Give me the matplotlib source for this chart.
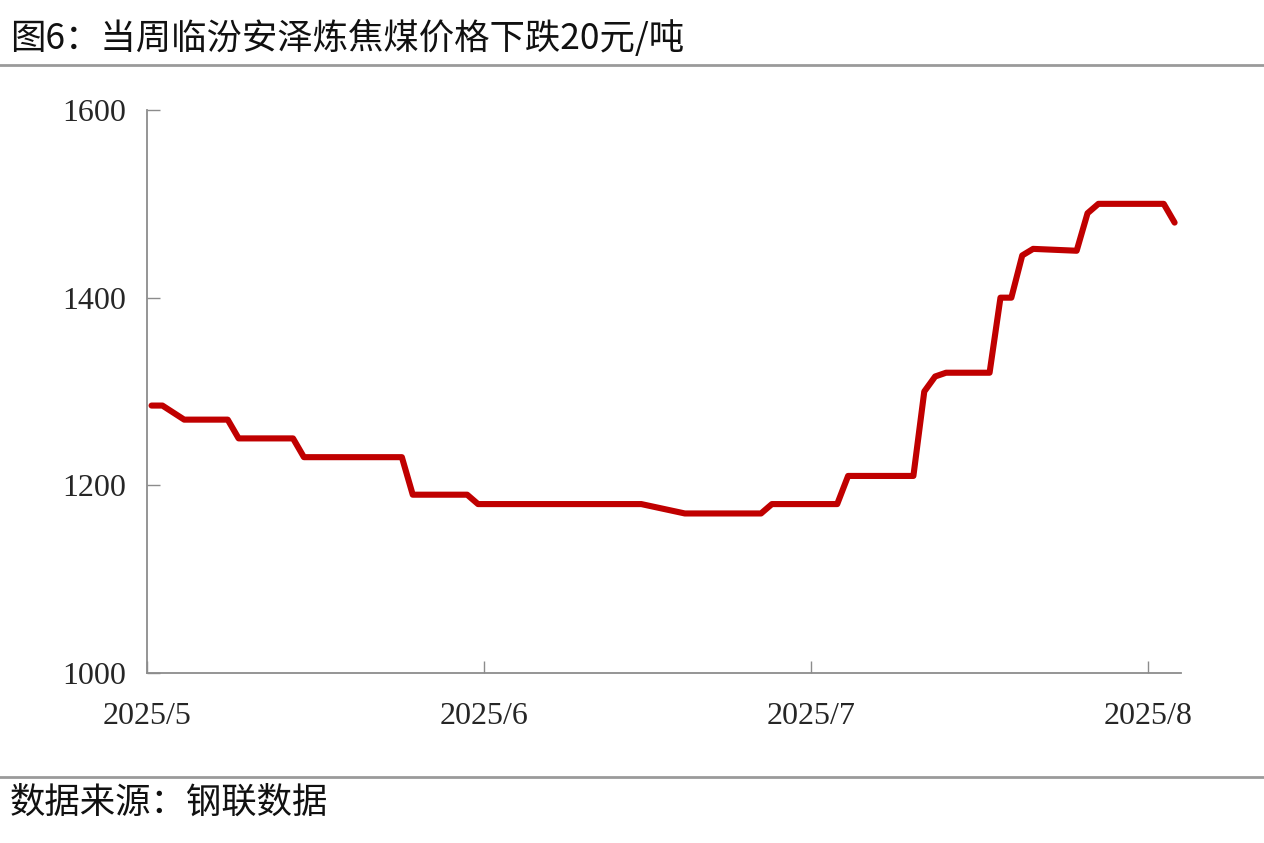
import matplotlib
matplotlib.use("Agg")
import matplotlib.pyplot as plt
import pandas as pd
from matplotlib.lines import Line2D

# 临汾安泽炼焦煤价格（元/吨）
dates = ["2025-05-01", "2025-05-02", "2025-05-04", "2025-05-08", "2025-05-09",
         "2025-05-14", "2025-05-15", "2025-05-24", "2025-05-25", "2025-05-30",
         "2025-05-31", "2025-06-15", "2025-06-19", "2025-06-26", "2025-06-27",
         "2025-07-03", "2025-07-04", "2025-07-10", "2025-07-11", "2025-07-12",
         "2025-07-13", "2025-07-17", "2025-07-18", "2025-07-19", "2025-07-20",
         "2025-07-21", "2025-07-25", "2025-07-26", "2025-07-27", "2025-08-02",
         "2025-08-03"]
price = [1285, 1285, 1270, 1270, 1250,
         1250, 1230, 1230, 1190, 1190,
         1180, 1180, 1170, 1170, 1180,
         1180, 1210, 1210, 1300, 1316,
         1320, 1320, 1400, 1400, 1445,
         1452, 1450, 1490, 1500, 1500,
         1480]
xticks = ["2025-05-01", "2025-06-01", "2025-07-01", "2025-08-01"]
xtick_labels = ["2025/5", "2025/6", "2025/7", "2025/8"]
yticks = [1000, 1200, 1400, 1600]

title = "图6：当周临汾安泽炼焦煤价格下跌20元/吨"
source = "数据来源：钢联数据"

cjk = ["Noto Sans CJK SC", "DejaVu Sans"]
serif = ["Liberation Serif", "DejaVu Serif"]

# 数据点按当天上午记
x = pd.to_datetime(dates) + pd.Timedelta(hours=10)

fig = plt.figure(figsize=(12.64, 8.43), dpi=100)
ax = fig.add_axes([0.1163, 0.2017, 0.818, 0.6678])

ax.plot(x, price, color="#C00000", lw=4.4, solid_joinstyle="round",
        solid_capstyle="round")

ax.set_ylim(1000, 1600)
ax.set_yticks(yticks)
ax.set_xlim(pd.Timestamp("2025-05-01"), pd.Timestamp("2025-08-04"))
ax.set_xticks(pd.to_datetime(xticks))
ax.set_xticklabels(xtick_labels)

for s in ["top", "right"]:
    ax.spines[s].set_visible(False)
for s in ["left", "bottom"]:
    ax.spines[s].set_color("#8c8c8c")
    ax.spines[s].set_linewidth(1.3)

ax.tick_params(axis="both", direction="in", length=9, width=1,
               color="#8c8c8c", labelcolor="#262626", labelsize=23)
ax.tick_params(axis="y", pad=15)
ax.tick_params(axis="x", pad=21)
for lab in ax.get_xticklabels() + ax.get_yticklabels():
    lab.set_family(serif)

# 标题和来源
fig.text(10 / 1264, 1 - 38 / 843, title, family=cjk, fontsize=25.5,
         ha="left", va="center", color="#111111")
fig.add_artist(Line2D([0, 1], [1 - 65 / 843] * 2, color="#9a9a9a", lw=2,
                      transform=fig.transFigure))
fig.add_artist(Line2D([0, 1], [1 - 777 / 843] * 2, color="#9a9a9a", lw=2,
                      transform=fig.transFigure))
fig.text(10 / 1264, 1 - 803 / 843, source, family=cjk, fontsize=25.5,
         ha="left", va="center", color="#111111")

fig.savefig("out.png", dpi=100)
